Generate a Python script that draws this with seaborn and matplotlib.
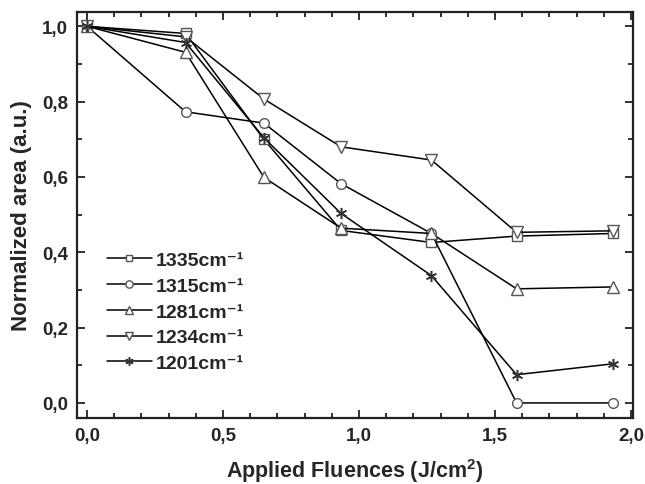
import matplotlib
matplotlib.use("Agg")
import matplotlib.pyplot as plt
import seaborn as sns
import pandas as pd
from matplotlib.ticker import MultipleLocator, FuncFormatter

fluence = [0.0, 0.362, 0.65, 0.934, 1.266, 1.579, 1.935]
s1335 = [1.0, 0.981, 0.700, 0.458, 0.426, 0.443, 0.450]
s1315 = [1.0, 0.773, 0.743, 0.582, 0.450, 0.0, 0.0]
s1281 = [1.0, 0.931, 0.599, 0.464, 0.450, 0.303, 0.308]
s1234 = [1.0, 0.972, 0.807, 0.680, 0.645, 0.453, 0.457]
s1201 = [1.0, 0.957, 0.704, 0.503, 0.338, 0.075, 0.104]
labels = ["1335cm⁻¹", "1315cm⁻¹", "1281cm⁻¹", "1234cm⁻¹", "1201cm⁻¹"]
series = [s1335, s1315, s1281, s1234, s1201]
markers = ["s", "o", "^", "v", (6, 2, 0)]
msizes = [6.5, 7, 8, 8, 8]

sns.set_style("ticks")
plt.rcParams['font.family'] = ['Liberation Sans', 'DejaVu Sans']
plt.rcParams['font.weight'] = 'bold'
plt.rcParams['mathtext.default'] = 'bf'
plt.rcParams['mathtext.fontset'] = 'custom'
plt.rcParams['mathtext.bf'] = 'Liberation Sans:bold'
plt.rcParams['mathtext.rm'] = 'Liberation Sans:bold'

fig = plt.figure(figsize=(6.45, 4.85), dpi=100)
ax = fig.add_axes([77/645, 1 - 419/485, (633-77)/645, (419-13)/485])

for lab, vals, mk, ms in zip(labels, series, markers, msizes):
    df = pd.DataFrame({"x": fluence, "y": vals})
    if mk == (6, 2, 0):
        sns.lineplot(data=df, x="x", y="y", ax=ax, color="black", lw=1.1,
                     marker=mk, markersize=ms, markeredgecolor="#333333",
                     markeredgewidth=1.1, label=lab, zorder=3)
    else:
        sns.lineplot(data=df, x="x", y="y", ax=ax, color="black", lw=1.1,
                     marker=mk, markersize=ms, markerfacecolor="white",
                     markeredgecolor="#555555", markeredgewidth=1.0, label=lab, zorder=3)

ax.set_xlim(-0.037, 2.007)
ax.set_ylim(-0.04, 1.038)
ax.xaxis.set_major_locator(MultipleLocator(0.5))
ax.xaxis.set_minor_locator(MultipleLocator(0.1))
ax.yaxis.set_major_locator(MultipleLocator(0.2))
ax.yaxis.set_minor_locator(MultipleLocator(0.1))
fmt = FuncFormatter(lambda v, p: f"{v:.1f}".replace(".", ","))
ax.xaxis.set_major_formatter(fmt)
ax.yaxis.set_major_formatter(fmt)
ax.tick_params(which="both", direction="in", top=True, right=True, width=1.3, color="#222222")
ax.tick_params(which="major", length=6, labelsize=13.5, pad=6.5)
ax.tick_params(which="minor", length=3.5)
for sp in ax.spines.values():
    sp.set_linewidth(1.6)
    sp.set_visible(True)
    sp.set_color("#222222")
for t in ax.get_xticklabels() + ax.get_yticklabels():
    t.set_fontweight("bold")

ax.set_xlabel("Applied Fluences (J/cm$^{2}$)", fontsize=15.5, fontweight="bold", labelpad=9)
ax.set_ylabel("Normalized area (a.u.)", fontsize=16, fontweight="bold", labelpad=7)

leg = ax.legend(loc="upper left", bbox_to_anchor=(0.054, 0.41), frameon=False,
                fontsize=14, handlelength=2.3, markerscale=0.75, labelspacing=0.42,
                handletextpad=0.2, borderaxespad=0, borderpad=0)
for t in leg.get_texts():
    t.set_fontweight("bold")

fig.savefig("out.png", dpi=100)
